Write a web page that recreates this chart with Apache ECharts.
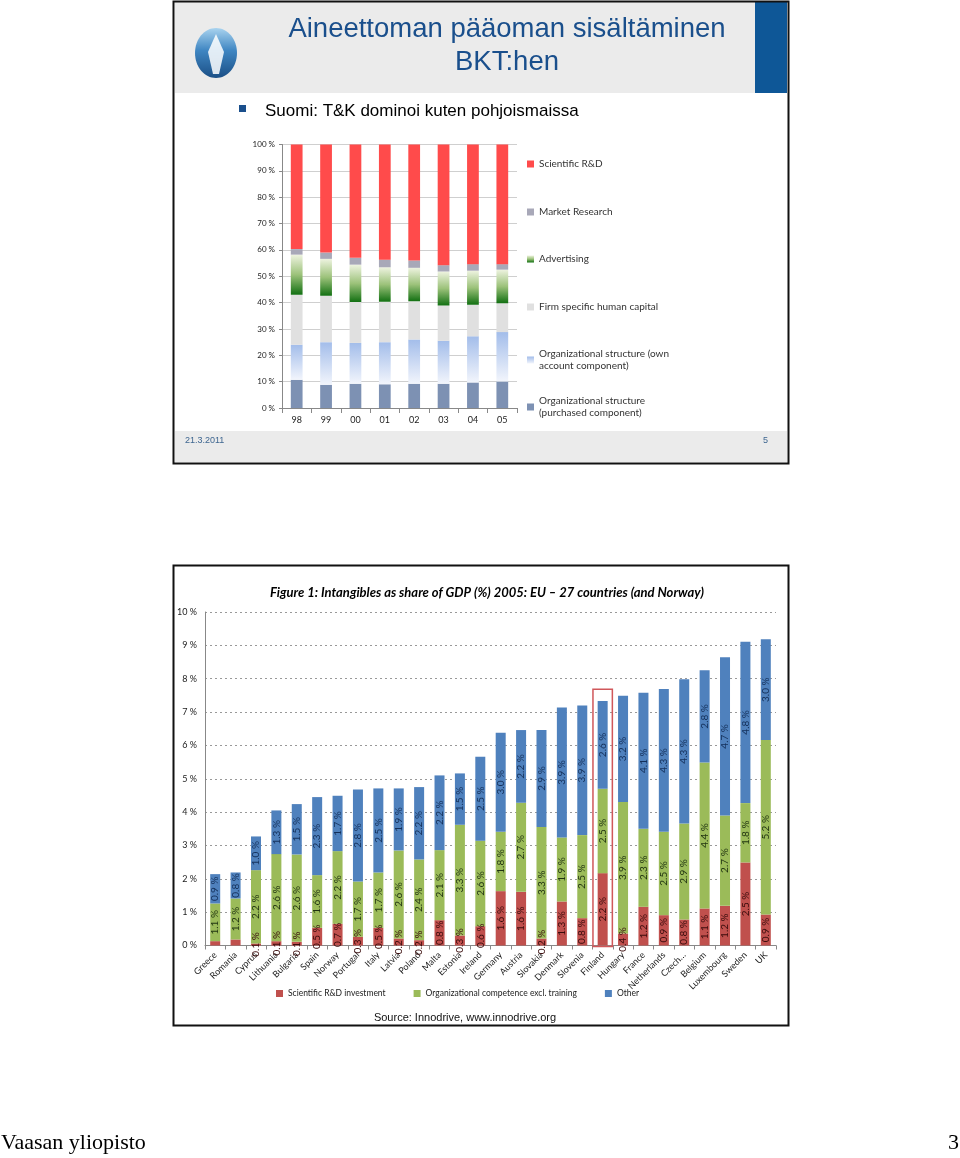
<!DOCTYPE html>
<html><head><meta charset="utf-8">
<script src="https://cdn.jsdelivr.net/npm/echarts@6/dist/echarts.min.js"></script>
<style>html,body{margin:0;padding:0;background:#fff}#c{width:960px;height:1158px}</style>
</head><body><div id="c"></div>
<script>
// ---- Top chart (100% stacked, Finland) ----
const years = ['98','99','00','01','02','03','04','05'];
const orgPurchased = [10.7, 8.8, 9.2, 9.0, 9.2, 9.2, 9.7, 10.1];
const orgOwn       = [13.3, 16.2, 15.5, 16.0, 16.8, 16.3, 17.5, 18.7];
const firmHuman    = [19.0, 17.6, 15.5, 15.3, 14.5, 13.4, 12.0, 11.0];
const advertising  = [15.2, 14.0, 14.2, 13.1, 12.7, 12.9, 12.9, 12.7];
const marketRes    = [2.1, 2.4, 2.6, 2.9, 2.8, 2.4, 2.5, 2.1];
const sciRD        = [39.7, 41.0, 43.0, 43.7, 44.0, 45.8, 45.4, 45.4];
const topLegendNames = ['Scientific R&D','Market Research','Advertising','Firm specific human capital','Organizational structure (own\naccount component)','Organizational structure\n(purchased component)'];

// ---- Bottom chart (% of GDP, 2005) ----
const countries = ['Greece','Romania','Cyprus','Lithuania','Bulgaria','Spain','Norway','Portugal','Italy','Latvia','Poland','Malta','Estonia','Ireland','Germany','Austria','Slovakia','Denmark','Slovenia','Finland','Hungary','France','Netherlands','Czech…','Belgium','Luxembourg','Sweden','UK'];
const rdInvest = [0.13,0.18,0.06,0.13,0.11,0.53,0.65,0.26,0.53,0.21,0.16,0.76,0.30,0.58,1.63,1.61,0.21,1.32,0.82,2.17,0.36,1.16,0.91,0.78,1.11,1.19,2.49,0.93];
const orgComp  = [1.13,1.23,2.20,2.61,2.62,1.58,2.18,1.66,1.66,2.64,2.42,2.10,3.32,2.56,1.78,2.67,3.34,1.92,2.49,2.53,3.94,2.34,2.50,2.88,4.38,2.71,1.78,5.23];
const other    = [0.88,0.78,1.01,1.31,1.51,2.34,1.66,2.76,2.52,1.86,2.17,2.24,1.54,2.52,2.97,2.18,2.91,3.90,3.89,2.63,3.19,4.08,4.28,4.32,2.76,4.74,4.84,3.02];
const hiddenRdLabels = ['Greece','Romania'];
const highlighted = 'Finland';

const chart = echarts.init(document.getElementById('c'));
const FONT = 'Lato, "Open Sans", sans-serif';

const advGrad = new echarts.graphic.LinearGradient(0,0,0,1,[{offset:0,color:'#eef3e0'},{offset:0.5,color:'#9cc27a'},{offset:1,color:'#127012'}]);
const ownGrad = new echarts.graphic.LinearGradient(0,0,0,1,[{offset:0,color:'#a3bdea'},{offset:1,color:'#f2f5fc'}]);

function topSeries(name, data, color){
  return {name, type:'bar', stack:'t', xAxisIndex:0, yAxisIndex:0, data, barWidth:'40%', itemStyle:{color}};
}
function botSeries(name, data, color, labelColor, hideFor){
  return {name, type:'bar', stack:'b', xAxisIndex:1, yAxisIndex:1, barWidth:10,
    data: data.map((v,i)=> hideFor && hideFor.includes(countries[i]) ? {value:v, label:{show:false}} : v),
    itemStyle:{color},
    label:{show:true, position:'inside', rotate:90, fontSize:10, fontFamily:FONT, color:labelColor,
      formatter:p=>p.value.toFixed(1)+' %'}};
}

// top legend: one entry per slot, evenly spaced centres
const legendCentres = [164, 212, 259, 307, 360, 407];
const topLegends = topLegendNames.map((n,i)=>({
  orient:'vertical', left:527, top: legendCentres[i] - (n.includes('\n') ? 12 : 6), padding:0,
  itemWidth:7, itemHeight:7, icon:'rect',
  textStyle:{fontSize:10, color:'#333', fontFamily:FONT, lineHeight:12}, data:[n]
}));

chart.setOption({
  animation:false,
  backgroundColor:'#fff',
  title:[
    {text:'Aineettoman pääoman sisältäminen\nBKT:hen', left:502, top:8, textAlign:'center',
     textStyle:{fontFamily:'"Liberation Sans", Arial, sans-serif', fontSize:27.5, fontWeight:'normal', color:'#1a4f8c', lineHeight:33}},
    {text:'Figure 1: Intangibles as share of GDP (%) 2005: EU – 27 countries (and Norway)', left:482, top:581, textAlign:'center',
     textStyle:{fontFamily:FONT, fontSize:13, fontWeight:'bold', fontStyle:'italic', color:'#000'}}
  ],
  grid:[
    {left:282, right:443, top:144.5, bottom:750},
    {left:205, right:184, top:612, bottom:212.5}
  ],
  xAxis:[
    {gridIndex:0, type:'category', data:years, axisLine:{lineStyle:{color:'#888'}}, axisTick:{show:true, lineStyle:{color:'#888'}},
     axisLabel:{fontSize:9, color:'#222', fontFamily:FONT, margin:8}},
    {gridIndex:1, type:'category', data:countries, axisLine:{lineStyle:{color:'#888'}}, axisTick:{show:true, length:4, lineStyle:{color:'#888'}},
     axisLabel:{fontSize:9, color:'#222', fontFamily:FONT, rotate:45, margin:8, interval:0}}
  ],
  yAxis:[
    {gridIndex:0, type:'value', min:0, max:100, interval:10, axisLine:{show:true, lineStyle:{color:'#888'}}, axisTick:{show:true, length:3, lineStyle:{color:'#888'}},
     splitLine:{lineStyle:{color:'#cfcfcf'}}, axisLabel:{fontSize:8, color:'#222', fontFamily:FONT, margin:7, formatter:'{value} %'}},
    {gridIndex:1, type:'value', min:0, max:10, interval:1, axisLine:{show:true, lineStyle:{color:'#888'}}, axisTick:{show:false},
     splitLine:{lineStyle:{color:'#999', type:[2,3]}}, axisLabel:{fontSize:9, color:'#222', fontFamily:FONT, margin:8, formatter:'{value} %'}}
  ],
  legend: topLegends.concat([
    {orient:'horizontal', left:276, top:989, padding:0, itemWidth:7, itemHeight:7, itemGap:28, icon:'rect',
     textStyle:{fontSize:8.5, color:'#222', fontFamily:FONT},
     data:['Scientific R&D investment','Organizational competence excl. training','Other']}
  ]),
  series:[
    topSeries(topLegendNames[5], orgPurchased, '#7d91b3'),
    topSeries(topLegendNames[4], orgOwn, ownGrad),
    topSeries(topLegendNames[3], firmHuman, '#e0e0e0'),
    topSeries(topLegendNames[2], advertising, advGrad),
    topSeries(topLegendNames[1], marketRes, '#a8a8b8'),
    topSeries(topLegendNames[0], sciRD, '#ff4b4b'),
    botSeries('Scientific R&D investment', rdInvest, '#c0504d', '#3a0c0c', hiddenRdLabels),
    botSeries('Organizational competence excl. training', orgComp, '#9bbb59', '#1f3210'),
    botSeries('Other', other, '#4f81bd', '#14305a')
  ]
});

// Graphics: slide frames, header, footer, texts, highlight box
function buildGraphics(){
  const gm = [];
  gm.push({type:'rect', shape:{x:175,y:2,width:612,height:91}, style:{fill:'#ebebeb'}, z:-10});
  gm.push({type:'rect', shape:{x:755,y:2,width:32,height:91}, style:{fill:'#0e5797'}, z:-9});
  gm.push({type:'rect', shape:{x:175,y:431,width:612,height:31}, style:{fill:'#ebebeb'}, z:-10});
  gm.push({type:'rect', shape:{x:173.5,y:1.5,width:615,height:462}, style:{fill:'none', stroke:'#111', lineWidth:2}, z:50});
  gm.push({type:'ellipse', shape:{cx:216, cy:53, rx:21, ry:25}, style:{fill:new echarts.graphic.LinearGradient(0,0,0,1,[{offset:0,color:'#a9d3ef'},{offset:0.45,color:'#3f86c2'},{offset:1,color:'#1b4f86'}])}, z:-5});
  gm.push({type:'polygon', shape:{points:[[216,34],[224,52],[219,74],[213,74],[208,52]]}, style:{fill:'rgba(255,255,255,0.85)'}, z:-4});
  gm.push({type:'rect', shape:{x:239,y:105,width:7,height:7}, style:{fill:'#1a4f8c'}});
  gm.push({type:'text', x:265, y:111, style:{text:'Suomi: T&K dominoi kuten pohjoismaissa', font:'17px "Liberation Sans", Arial, sans-serif', fill:'#000', verticalAlign:'middle'}});
  gm.push({type:'text', x:185, y:441, style:{text:'21.3.2011', font:'9px "Liberation Sans", Arial, sans-serif', fill:'#3e6690', verticalAlign:'middle'}});
  gm.push({type:'text', x:768, y:441, style:{text:'5', font:'9px "Liberation Sans", Arial, sans-serif', fill:'#3e6690', verticalAlign:'middle', align:'right'}});
  gm.push({type:'rect', shape:{x:173.5,y:565.5,width:615,height:460}, style:{fill:'none', stroke:'#111', lineWidth:2}, z:50});
  gm.push({type:'text', x:465, y:1018, style:{text:'Source: Innodrive, www.innodrive.org', font:'11px "Liberation Sans", Arial, sans-serif', fill:'#111', align:'center', verticalAlign:'middle'}});
  gm.push({type:'text', x:1, y:1143, style:{text:'Vaasan yliopisto', font:'22px "Liberation Serif", "Times New Roman", serif', fill:'#000', verticalAlign:'middle'}});
  gm.push({type:'text', x:959, y:1143, style:{text:'3', font:'22px "Liberation Serif", "Times New Roman", serif', fill:'#000', verticalAlign:'middle', align:'right'}});
  // Finland highlight box, via the chart's own scales
  const i = countries.indexOf(highlighted);
  const total = rdInvest[i] + orgComp[i] + other[i];
  const pTop = chart.convertToPixel({xAxisIndex:1, yAxisIndex:1}, [highlighted, total + 0.35]);
  const pBot = chart.convertToPixel({xAxisIndex:1, yAxisIndex:1}, [highlighted, 0]);
  const band = chart.getModel().getComponent('xAxis',1).axis.getBandWidth();
  gm.push({type:'rect', shape:{x:pTop[0]-band/2+0.5, y:pTop[1], width:band-1, height:pBot[1]-pTop[1]+1}, style:{fill:'none', stroke:'#d0575a', lineWidth:1.5}, z:40});
  chart.setOption({graphic:gm});
}
buildGraphics();
</script></body></html>
